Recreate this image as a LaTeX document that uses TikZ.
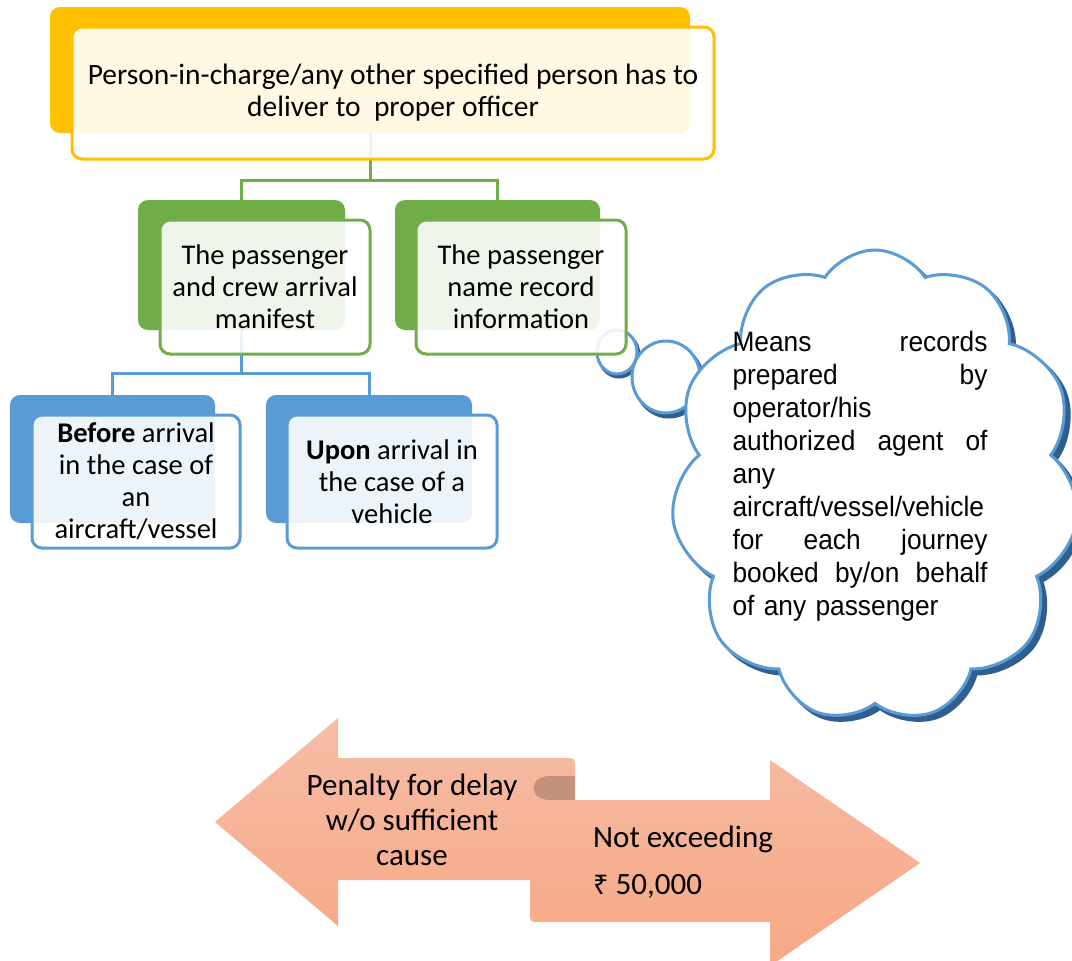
\documentclass[tikz,border=0pt]{standalone}
\usepackage{fontspec}
\setmainfont{Carlito}
\newfontfamily\arialf[FakeStretch=0.94]{Liberation Sans}
\newfontfamily\rupeef{Noto Sans}
\usetikzlibrary{shapes.symbols,shapes.geometric}
\definecolor{orng}{HTML}{FFC000}
\definecolor{grn}{HTML}{70AD47}
\definecolor{blu}{HTML}{5B9BD5}
\definecolor{dblu}{HTML}{2F5F8F}
\definecolor{salmtop}{HTML}{F5BDA5}
\definecolor{salmbot}{HTML}{F7A785}
\definecolor{foldc}{HTML}{C4917B}
\begin{document}
\begin{tikzpicture}[x=1pt,y=-1pt,
  backbox/.style={rectangle, rounded corners=10pt, inner sep=0pt, draw=none},
  frontbox/.style={rectangle, rounded corners=10pt, inner sep=0pt, line width=3pt,
     fill=white, fill opacity=0.89, text opacity=1, align=center,
     font=\fontsize{28.5}{32}\selectfont},
  conn/.style={line width=3pt},
  bubble/.style={draw=blu, line width=3pt, fill=white},
  bubshadow/.style={draw=dblu, line width=3pt, fill=dblu},
  cloudshape/.style={cloud, cloud puffs=11, cloud puff arc=115, aspect=0.85,
     minimum width=408pt, minimum height=472pt, inner sep=0pt}
]
\clip (0,0) rectangle (1072,961);
\fill[white] (0,0) rectangle (1072,961);

% back boxes
\node[backbox, fill=orng, minimum width=640pt, minimum height=126pt] (tb) at (370,70) {};
\node[backbox, fill=grn, minimum width=207pt, minimum height=130pt] (glb) at (241.5,265) {};
\node[backbox, fill=grn, minimum width=205pt, minimum height=130pt] (grb) at (497.5,265) {};
\node[backbox, fill=blu, minimum width=205pt, minimum height=128pt] (blb) at (112.5,459) {};
\node[backbox, fill=blu, minimum width=206pt, minimum height=128pt] (brb) at (369,459) {};

% connectors
\coordinate (j1) at (370,180);
\coordinate (j2) at (241.5,373);
\draw[conn, grn] (tb.south) -- (j1) -| (glb.north);
\draw[conn, grn] (j1) -| (grb.north);
\draw[conn, blu] (glb.south) -- (j2) -| (blb.north);
\draw[conn, blu] (j2) -| (brb.north);

% small thought bubble (behind the green box)
\node[bubshadow, ellipse, minimum width=40pt, minimum height=44pt] (t1s) at (619,355) {};
\node[bubble, ellipse, minimum width=40pt, minimum height=44pt] (t1) at (617,352) {};

% front boxes
\node[frontbox, draw=orng, minimum width=642pt, minimum height=132pt,
  font=\fontsize{29.5}{32}\selectfont] (top) at (393,93)
  {Person-in-charge/any other specified person has to\\deliver to\ \ proper officer};
\node[frontbox, draw=grn, minimum width=210pt, minimum height=134pt] (gl) at (265,287)
  {The passenger\\and crew arrival\\manifest};
\node[frontbox, draw=grn, minimum width=210pt, minimum height=134pt] (gr) at (521,287)
  {The passenger\\name record\\information};
\node[frontbox, draw=blu, minimum width=208pt, minimum height=133pt] (bl) at (136,481.5)
  {\textbf{Before} arrival\\in the case of\\an\\aircraft/vessel};
\node[frontbox, draw=blu, minimum width=210pt, minimum height=133pt] (br) at (392,481.5)
  {\textbf{Upon} arrival in\\the case of a\\vehicle};

% larger thought bubble
\node[bubshadow, ellipse, minimum width=68pt, minimum height=72pt] (t2s) at (669,381) {};
\node[bubble, ellipse, minimum width=68pt, minimum height=72pt] (t2) at (666,377) {};

% cloud
\node[cloudshape, fill=dblu, draw=dblu, line width=3pt] (cls) at (880,491) {};
\node[cloudshape, fill=white, draw=blu, line width=3pt] (cl) at (875,486) {};
\node[font=\arialf\fontsize{28}{33}\selectfont, align=left, text width=255pt, inner sep=0pt]
  (ctext) at (860,476) {%
  Means\hfill records\\
  prepared\hfill by\\
  operator/his\\
  authorized\hfill agent\hfill of\\
  any\\
  aircraft/vessel/vehicle\\
  for\hfill each\hfill journey\\
  booked\hfill by/on\hfill behalf\\
  of any passenger};

% double arrow
\shade[top color=salmtop, bottom color=salmbot]
  (215,822) -- (338,718) -- (338,758) -- (565,758)
  .. controls (575,758) .. (575,768) -- (575,800) -- (770,800) -- (770,760)
  -- (920,863) -- (770,966) -- (770,922) -- (540,922)
  .. controls (530,922) .. (530,912) -- (530,880) -- (338,880) -- (338,926) -- cycle;
\fill[foldc] (575,776) -- (550,776) .. controls (528,776) and (528,800) .. (550,800)
  -- (575,800) -- cycle;

\node[font=\fontsize{31}{35}\selectfont, align=center] (pen) at (412,820)
  {Penalty for delay\\w/o sufficient\\cause};
\node[font=\fontsize{31}{35}\selectfont, anchor=west, inner sep=0pt] (ne) at (593,839)
  {Not exceeding};
\node[font=\fontsize{31}{35}\selectfont, anchor=west, inner sep=0pt] (rs) at (593,886)
  {{\rupeef\fontsize{27}{30}\selectfont ₹} 50,000};
\end{tikzpicture}
\end{document}
